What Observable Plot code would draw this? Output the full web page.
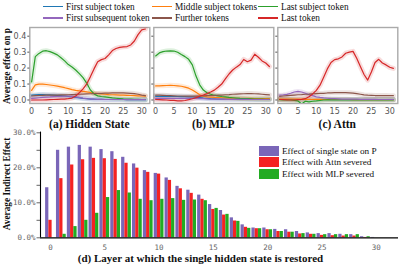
<!DOCTYPE html>
<html><head><meta charset="utf-8">
<script src="https://cdn.jsdelivr.net/npm/d3@7"></script>
<script src="https://cdn.jsdelivr.net/npm/@observablehq/plot@0.6"></script>
<style>
body{margin:0;background:#fff;}
#root{position:relative;width:403px;height:266px;overflow:hidden;font-family:"Liberation Serif","Times New Roman",serif;color:#111;}
.abs{position:absolute;white-space:nowrap;}
.plot{position:absolute;}
</style></head><body><div id="root"></div>
<script>
// ---------- data ----------
const layers = d3.range(32);
const seriesNames = ["First subject token","Middle subject tokens","Last subject token","First subsequent token","Further tokens","Last token"];
const seriesColors = ["#1f77b4","#ff7f0e","#2ca02c","#9467bd","#8c564b","#d62728"];

// (a) Hidden State
const hsFirst = [0.030,0.032,0.034,0.034,0.033,0.032,0.031,0.029,0.027,0.025,0.022,0.019,0.016,0.013,0.010,0.008,0.006,0.005,0.004,0.004,0.003,0.003,0.003,0.003,0.003,0.003,0.002,0.002,0.002,0.002,0.002,0.002];
const hsMiddle = [0.060,0.095,0.100,0.099,0.097,0.094,0.091,0.087,0.082,0.077,0.071,0.065,0.060,0.057,0.054,0.051,0.047,0.043,0.040,0.038,0.036,0.034,0.033,0.032,0.031,0.030,0.029,0.028,0.027,0.026,0.025,0.024];
const hsLastSubj = [0.114,0.272,0.292,0.306,0.309,0.303,0.294,0.283,0.265,0.245,0.222,0.207,0.188,0.165,0.140,0.106,0.063,0.038,0.026,0.022,0.019,0.016,0.013,0.011,0.009,0.007,0.006,0.005,0.004,0.004,0.003,0.003];
const hsFirstSub = [0.010,0.012,0.014,0.016,0.018,0.019,0.021,0.022,0.023,0.024,0.024,0.023,0.020,0.016,0.012,0.009,0.007,0.005,0.004,0.004,0.003,0.003,0.003,0.003,0.003,0.003,0.002,0.002,0.002,0.002,0.002,0.002];
const hsFurther = [0.025,0.027,0.028,0.029,0.030,0.030,0.031,0.031,0.032,0.032,0.033,0.034,0.035,0.036,0.037,0.038,0.039,0.040,0.041,0.042,0.043,0.043,0.044,0.044,0.044,0.044,0.043,0.042,0.040,0.036,0.031,0.027];
const hsLastTok = [0.000,0.000,0.000,0.000,0.001,0.002,0.003,0.004,0.005,0.006,0.008,0.012,0.025,0.045,0.070,0.100,0.145,0.195,0.240,0.253,0.260,0.283,0.310,0.323,0.330,0.333,0.335,0.345,0.370,0.410,0.440,0.445];

// (b) MLP
const mlpFirst = [0.023,0.023,0.023,0.023,0.022,0.022,0.022,0.021,0.021,0.020,0.020,0.018,0.015,0.012,0.010,0.008,0.007,0.006,0.006,0.005,0.005,0.005,0.005,0.005,0.004,0.004,0.004,0.004,0.004,0.004,0.004,0.004];
const mlpMiddle = [0.088,0.089,0.090,0.091,0.092,0.091,0.089,0.086,0.081,0.074,0.063,0.048,0.033,0.024,0.020,0.018,0.016,0.015,0.014,0.013,0.012,0.012,0.011,0.011,0.010,0.010,0.010,0.009,0.009,0.009,0.008,0.008];
const mlpLastSubj = [0.276,0.295,0.303,0.307,0.308,0.307,0.299,0.285,0.272,0.255,0.220,0.150,0.095,0.062,0.045,0.036,0.030,0.026,0.022,0.019,0.016,0.014,0.012,0.010,0.009,0.008,0.007,0.006,0.005,0.005,0.004,0.004];
const mlpFirstSub = [0.010,0.010,0.010,0.010,0.010,0.010,0.010,0.010,0.010,0.010,0.010,0.010,0.009,0.008,0.007,0.006,0.005,0.005,0.005,0.004,0.004,0.004,0.004,0.004,0.004,0.004,0.003,0.003,0.003,0.003,0.003,0.003];
const mlpFurther = [0.030,0.030,0.029,0.028,0.027,0.026,0.025,0.025,0.024,0.024,0.024,0.024,0.025,0.026,0.027,0.028,0.029,0.030,0.031,0.033,0.034,0.036,0.037,0.038,0.039,0.040,0.040,0.039,0.038,0.036,0.034,0.032];
const mlpLastTok = [0.003,0.002,0.001,0.000,-0.002,-0.003,-0.005,-0.006,-0.003,0.002,0.008,0.015,0.023,0.031,0.040,0.050,0.062,0.080,0.100,0.132,0.163,0.188,0.206,0.222,0.254,0.240,0.250,0.287,0.268,0.245,0.232,0.210];

// (c) Attn
const attFirst = [0.003,0.003,0.003,0.003,0.003,0.003,0.003,0.003,0.003,0.003,0.003,0.003,0.003,0.003,0.003,0.003,0.003,0.003,0.003,0.003,0.003,0.003,0.003,0.003,0.003,0.003,0.003,0.003,0.003,0.003,0.003,0.003];
const attMiddle = [0.006,0.006,0.006,0.005,0.005,0.005,0.005,0.004,0.004,0.004,0.004,0.004,0.003,0.003,0.003,0.003,0.003,0.003,0.003,0.003,0.002,0.002,0.002,0.002,0.002,0.002,0.002,0.002,0.002,0.002,0.002,0.002];
const attLastSubj = [0.002,0.001,0.000,0.000,-0.002,-0.006,-0.025,-0.008,-0.012,-0.008,-0.006,-0.003,0.000,0.001,0.001,0.001,0.001,0.001,0.001,0.001,0.001,0.001,0.001,0.001,0.001,0.001,0.001,0.001,0.001,0.001,0.001,0.001];
const attFirstSub = [0.030,0.032,0.035,0.042,0.050,0.054,0.050,0.042,0.034,0.027,0.020,0.016,0.013,0.011,0.009,0.008,0.007,0.006,0.006,0.005,0.005,0.005,0.004,0.004,0.004,0.004,0.004,0.003,0.003,0.003,0.003,0.003];
const attFurther = [0.023,0.025,0.027,0.029,0.031,0.033,0.034,0.036,0.037,0.039,0.040,0.041,0.042,0.044,0.045,0.046,0.046,0.046,0.046,0.045,0.043,0.040,0.036,0.032,0.030,0.029,0.028,0.028,0.028,0.028,0.027,0.027];
const attLastTok = [0.003,0.002,0.001,0.000,0.000,0.002,0.004,0.008,0.020,0.038,0.060,0.093,0.143,0.195,0.235,0.253,0.258,0.270,0.293,0.300,0.305,0.262,0.210,0.160,0.125,0.175,0.235,0.255,0.232,0.220,0.205,0.198];

const topXTicks = [0,5,10,15,20,25,30];
const topYTicks = [0,0.1,0.2,0.3,0.4];
const topXDomain = [-0.5, 32.2];
const topYDomain = [-0.022, 0.4545];

// (d) bars (percent)
const barNames = ["Effect of single state on P","Effect with Attn severed","Effect with MLP severed"];
const barColors = ["#7a66b8","#f52222","#22ab22"];
const singleState = [14.3,25.0,25.9,26.4,25.9,25.2,24.6,23.0,21.1,19.2,18.4,17.1,14.7,13.6,12.2,9.5,7.8,5.7,3.7,2.8,2.8,2.4,2.3,1.8,1.4,1.2,1.2,1.0,0.9,0.3,0.1,0.0];
const attnSevered = [5.0,16.9,20.8,22.3,22.7,22.6,22.4,21.3,19.9,18.7,18.2,16.4,14.0,12.7,11.0,8.1,6.5,4.8,3.0,2.6,2.3,1.8,1.6,1.1,1.0,0.7,0.6,0.5,0.5,0.1,0.0,0.0];
const mlpSevered = [0.0,1.0,3.2,5.0,7.0,11.5,13.5,12.8,11.0,10.6,11.0,11.2,10.7,10.8,10.6,8.4,6.7,4.7,2.7,2.6,2.3,1.8,1.6,1.2,1.0,0.9,0.9,0.9,0.9,0.3,0.0,0.0];
const barXTicks = [0,5,10,15,20,25,30];
const barYTicks = [0,10,20,30];
const barYMinor = [5,15,25];
const barXDomain = [-0.92, 32.05];
const barYDomain = [0, 30.2];
const barOffsets = [-0.3, 0, 0.3];
const barWidth = 0.3;

// ---------- layout ----------
const root = document.getElementById("root");
function addDiv(html, css) {
  const d = document.createElement("div");
  d.className = "abs";
  d.innerHTML = html;
  Object.assign(d.style, css);
  root.appendChild(d);
  return d;
}

// top legend
const legendCols = [43, 152, 258];
const legendRows = [6.7, 18];
seriesNames.forEach((name, i) => {
  const col = i % 3, row = Math.floor(i / 3);
  const x = legendCols[col], y = legendRows[row];
  addDiv("", {left: x + "px", top: (y - 0.75) + "px", width: "20px", height: "1.5px", background: seriesColors[i]});
  addDiv(name, {left: (x + 23) + "px", top: (y - 6) + "px", fontSize: "9.3px", lineHeight: "12px"});
});

function panel(series, left, width, ml, mr, showYLabels, title) {
  const data = series.flatMap((vals, i) => vals.map((v, j) => ({layer: layers[j], value: v, color: seriesColors[i], s: i})));
  const p = Plot.plot({
    width, height: 94, marginLeft: ml, marginRight: mr, marginTop: 3, marginBottom: 15,
    x: {domain: topXDomain},
    y: {domain: topYDomain},
    color: {type: "identity"},
    style: {fontFamily: "DejaVu Sans", fontSize: "8px", color: "#555", background: "transparent", overflow: "visible"},
    marks: [
      Plot.frame({stroke: "#aaa", strokeWidth: 1.4}),
      Plot.axisX({ticks: topXTicks, tickSize: 0, tickPadding: 4.5, label: null}),
      Plot.axisY({ticks: topYTicks, tickSize: 2, tickPadding: 1.5, label: null,
        tickFormat: showYLabels ? (d => d.toFixed(1)) : (() => "")}),
      Plot.line(data, {x: "layer", y: "value", z: "s", stroke: "color", strokeWidth: 5, strokeOpacity: 0.16, clip: true}),
      Plot.line(data, {x: "layer", y: "value", z: "s", stroke: "color", strokeWidth: 1.2, clip: true})
    ]
  });
  p.classList.add("plot");
  p.style.left = left + "px";
  p.style.top = "24px";
  root.appendChild(p);
  const cx = left + ml + (width - ml - mr) / 2;
  addDiv(title, {left: cx + "px", top: "123.5px", transform: "translate(-50%,-50%)", fontSize: "11.5px", fontWeight: "bold"});
}

panel([hsFirst, hsMiddle, hsLastSubj, hsFirstSub, hsFurther, hsLastTok], 0, 150, 29.3, 0.7, true, "(a) Hidden State");
panel([mlpFirst, mlpMiddle, mlpLastSubj, mlpFirstSub, mlpFurther, mlpLastTok], 150, 125, 3.3, 1.7, false, "(b) MLP");
panel([attFirst, attMiddle, attLastSubj, attFirstSub, attFurther, attLastTok], 274, 128, 3.3, 4.7, false, "(c) Attn");

addDiv("Average effect on p", {left: "7px", top: "66px", transform: "translate(-50%,-50%) rotate(-90deg)", fontSize: "9.3px", fontWeight: "bold"});

// bottom bars
const barSeries = [singleState, attnSevered, mlpSevered];
const barData = layers.flatMap(l => barSeries.map((vals, i) => ({layer: l, value: vals[l], s: i, color: barColors[i]})));
const bp = Plot.plot({
  width: 403, height: 138, marginLeft: 40, marginRight: 5, marginTop: 3.6, marginBottom: 28.7,
  x: {domain: barXDomain},
  y: {domain: barYDomain},
  color: {type: "identity"},
  style: {fontFamily: "DejaVu Sans Mono", fontSize: "7.5px", color: "#666", background: "transparent", overflow: "visible"},
  marks: [
    Plot.rect(barData, {
      x1: d => d.layer + barOffsets[d.s] - barWidth / 2,
      x2: d => d.layer + barOffsets[d.s] + barWidth / 2,
      y1: 0, y2: "value", fill: "color"
    }),
    Plot.axisY({ticks: barYTicks, tickSize: 3.5, tickPadding: 1.5, label: null, tickFormat: d => d.toFixed(1) + "%"}),
    Plot.axisY({ticks: barYMinor, tickSize: 3.5, label: null, tickFormat: () => ""}),
    Plot.axisX({ticks: barXTicks, tickSize: 0, tickPadding: 6.5, label: null}),
    Plot.ruleY([0], {stroke: "#000", strokeWidth: 1.3}),
    Plot.ruleX([barXDomain[0]], {stroke: "#000", strokeWidth: 1.1})
  ]
});
bp.classList.add("plot");
bp.style.left = "0px";
bp.style.top = "128px";
root.appendChild(bp);

addDiv("Average Indirect Effect", {left: "7px", top: "183.5px", transform: "translate(-50%,-50%) rotate(-90deg)", fontSize: "9.3px", fontWeight: "bold"});
addDiv("(d) Layer at which the single hidden state is restored", {left: "200.5px", top: "257.5px", transform: "translate(-50%,-50%)", fontSize: "11px", fontWeight: "bold"});

// bottom legend
const barLegendRows = [150.7, 162.2, 173.5];
barNames.forEach((name, i) => {
  addDiv("", {left: "259px", top: (barLegendRows[i] - 5) + "px", width: "20px", height: "10px", background: barColors[i]});
  addDiv(name, {left: "282px", top: (barLegendRows[i] - 6) + "px", fontSize: "9.2px", lineHeight: "12px"});
});
</script></body></html>
